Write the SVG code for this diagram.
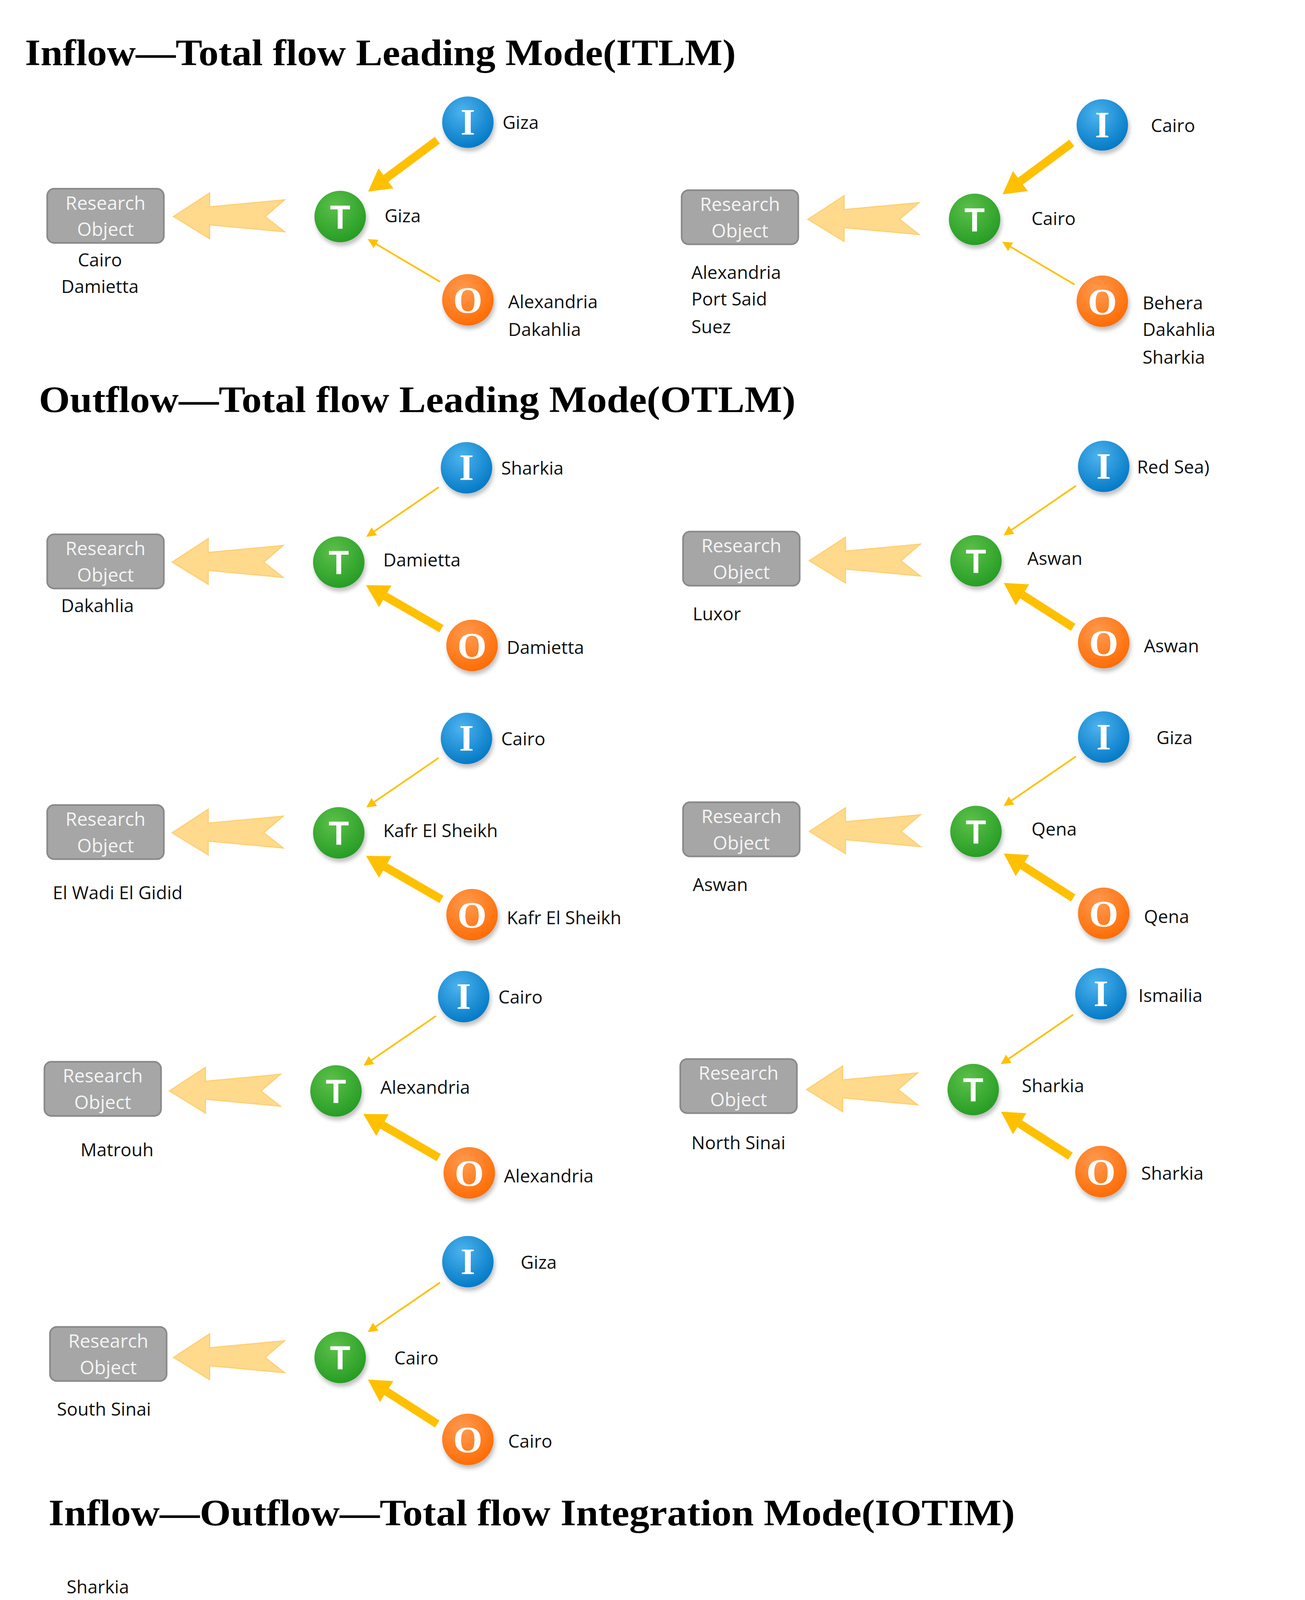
<svg xmlns="http://www.w3.org/2000/svg" width="3340" height="5546" viewBox="0 0 3340 5546">
<defs>
<style>
.title{font-family:"Liberation Serif",serif;font-weight:bold;font-size:27px;fill:#000}
.lbl{font-family:"Open Sans","Noto Sans",sans-serif;font-size:13px;fill:#111}
.boxt{font-family:"Open Sans","Noto Sans",sans-serif;font-size:13.5px;fill:#f4f4f4;text-anchor:middle}
.box{fill:#a6a6a6;stroke:#8a8a8a;stroke-width:1.2}
.big{fill:#ffd98c;stroke:#ffcf70;stroke-width:0.8}
.thick{stroke:#ffc000;stroke-width:6;fill:none}
.thin{stroke:#ffc000;stroke-width:1.2;fill:none}
.let{font-weight:bold;fill:#fff;text-anchor:middle}
.serif{font-family:"Liberation Serif",serif;font-size:27px}
.sans{font-family:"Liberation Sans",sans-serif;font-size:24px}
.sh{fill:#000;opacity:0.25}
</style>
<radialGradient id="gI" cx="40%" cy="30%" r="75%"><stop offset="0" stop-color="#4db3ee"/><stop offset="1" stop-color="#0077c4"/></radialGradient>
<radialGradient id="gT" cx="40%" cy="30%" r="75%"><stop offset="0" stop-color="#5cc04a"/><stop offset="1" stop-color="#239b22"/></radialGradient>
<radialGradient id="gO" cx="40%" cy="30%" r="75%"><stop offset="0" stop-color="#ff9a50"/><stop offset="1" stop-color="#ff6a00"/></radialGradient>
<filter id="bl" x="-50%" y="-50%" width="200%" height="200%"><feGaussianBlur stdDeviation="1.5"/></filter>
<marker id="hk" markerUnits="userSpaceOnUse" markerWidth="20" markerHeight="20" refX="0" refY="0" viewBox="-1 -10 18 20" orient="auto" overflow="visible"><path d="M0,-9 L16,0 L0,9 Z" fill="#ffc000"/></marker>
<marker id="hn" markerUnits="userSpaceOnUse" markerWidth="8" markerHeight="8" refX="0" refY="0" viewBox="-1 -4 8 8" orient="auto" overflow="visible"><path d="M0,-3.5 L7,0 L0,3.5 Z" fill="#ffc000"/></marker>
<g id="bigArrow"><path class="big" d="M0,0 L26,-17 L26,-7 L80,-12 L66,0 L80,11 L26,6 L26,16 Z"/></g>
<g id="boxShape"><rect class="box" x="0" y="0" width="84" height="39" rx="5"/><text class="boxt" x="42" y="15">Research</text><text class="boxt" x="42" y="34">Object</text></g>
<g id="nI"><circle class="sh" cx="1" cy="2.5" r="18.5" filter="url(#bl)"/><circle r="18.5" fill="url(#gI)"/><text class="let serif" y="9">I</text></g>
<g id="nT"><circle class="sh" cx="1" cy="2.5" r="18.5" filter="url(#bl)"/><circle r="18.5" fill="url(#gT)"/><text class="let sans" y="8.5">T</text></g>
<g id="nO"><circle class="sh" cx="1" cy="2.5" r="18.5" filter="url(#bl)"/><circle r="18.5" fill="url(#gO)"/><text class="let serif" y="9.5">O</text></g>
</defs>
<rect width="3340" height="5546" fill="#fff"/>
<g transform="scale(3.5532)">
<g id="titles">
<text class="title" x="18" y="47" textLength="512" lengthAdjust="spacingAndGlyphs">Inflow—Total flow Leading Mode(ITLM)</text>
<text class="title" x="28" y="297" textLength="545" lengthAdjust="spacingAndGlyphs">Outflow—Total flow Leading Mode(OTLM)</text>
<text class="title" x="35" y="1099" textLength="696" lengthAdjust="spacingAndGlyphs">Inflow—Outflow—Total flow Integration Mode(IOTIM)</text>
</g>
<g id="connectors">
<g transform="translate(245,156)"><use href="#bigArrow" x="-120"/><line class="thick" x1="70" y1="-55" x2="33" y2="-27.5" marker-end="url(#hk)"/><line class="thin" x1="72" y1="47" x2="25.9" y2="19.8" marker-end="url(#hn)"/></g>
<g transform="translate(702,158)"><use href="#bigArrow" x="-120"/><line class="thick" x1="70" y1="-55" x2="33" y2="-27.5" marker-end="url(#hk)"/><line class="thin" x1="72" y1="47" x2="25.9" y2="19.8" marker-end="url(#hn)"/></g>
<g transform="translate(244,405)"><use href="#bigArrow" x="-120"/><line class="thin" x1="72" y1="-54" x2="25.6" y2="-22.2" marker-end="url(#hn)"/><line class="thick" x1="74" y1="48" x2="33.5" y2="24.6" marker-end="url(#hk)"/></g>
<g transform="translate(703,404)"><use href="#bigArrow" x="-120"/><line class="thin" x1="72" y1="-54" x2="25.6" y2="-22.2" marker-end="url(#hn)"/><line class="thick" x1="70" y1="48" x2="33.5" y2="24.6" marker-end="url(#hk)"/></g>
<g transform="translate(244,600)"><use href="#bigArrow" x="-120"/><line class="thin" x1="72" y1="-54" x2="25.6" y2="-22.2" marker-end="url(#hn)"/><line class="thick" x1="74" y1="48" x2="33.5" y2="24.6" marker-end="url(#hk)"/></g>
<g transform="translate(703,599)"><use href="#bigArrow" x="-120"/><line class="thin" x1="72" y1="-54" x2="25.6" y2="-22.2" marker-end="url(#hn)"/><line class="thick" x1="70" y1="48" x2="33.5" y2="24.6" marker-end="url(#hk)"/></g>
<g transform="translate(242,786)"><use href="#bigArrow" x="-120"/><line class="thin" x1="72" y1="-54" x2="25.6" y2="-22.2" marker-end="url(#hn)"/><line class="thick" x1="74" y1="48" x2="33.5" y2="24.6" marker-end="url(#hk)"/></g>
<g transform="translate(701,785)"><use href="#bigArrow" x="-120"/><line class="thin" x1="72" y1="-54" x2="25.6" y2="-22.2" marker-end="url(#hn)"/><line class="thick" x1="70" y1="48" x2="33.5" y2="24.6" marker-end="url(#hk)"/></g>
<g transform="translate(245,978)"><use href="#bigArrow" x="-120"/><line class="thin" x1="72" y1="-54" x2="25.6" y2="-22.2" marker-end="url(#hn)"/><line class="thick" x1="70" y1="48" x2="33.5" y2="24.6" marker-end="url(#hk)"/></g>
<g transform="translate(246,1257)"><use href="#bigArrow" x="-120"/><line class="thick" x1="70" y1="-55" x2="33" y2="-27.5" marker-end="url(#hk)"/><line class="thick" x1="70" y1="48" x2="33.5" y2="24.6" marker-end="url(#hk)"/></g>
<g transform="translate(719,1250)"><use href="#bigArrow" x="-120"/><line class="thick" x1="70" y1="-55" x2="33" y2="-27.5" marker-end="url(#hk)"/><line class="thick" x1="70" y1="48" x2="33.5" y2="24.6" marker-end="url(#hk)"/></g>
<g transform="translate(246,1471)"><use href="#bigArrow" x="-120"/><line class="thick" x1="70" y1="-55" x2="33" y2="-27.5" marker-end="url(#hk)"/><line class="thick" x1="70" y1="48" x2="33.5" y2="24.6" marker-end="url(#hk)"/></g>
<g transform="translate(719,1465)"><use href="#bigArrow" x="-120"/><line class="thick" x1="70" y1="-55" x2="33" y2="-27.5" marker-end="url(#hk)"/><line class="thick" x1="70" y1="48" x2="33.5" y2="24.6" marker-end="url(#hk)"/></g>
</g>

<g id="p1"><g transform="translate(245,156)"><use href="#boxShape" x="-211" y="-20"/><use href="#nT"/><use href="#nI" x="92" y="-68"/><use href="#nO" x="92" y="60"/></g>
<text class="lbl" x="72" y="192" text-anchor="middle">Cairo</text><text class="lbl" x="72" y="211" text-anchor="middle">Damietta</text>
<text class="lbl" x="277" y="160">Giza</text><text class="lbl" x="362" y="93">Giza</text><text class="lbl" x="366" y="222">Alexandria</text><text class="lbl" x="366" y="242">Dakahlia</text></g>

<g id="p2"><g transform="translate(702,158)"><use href="#boxShape" x="-211" y="-21"/><use href="#nT"/><use href="#nI" x="92" y="-68"/><use href="#nO" x="92" y="59"/></g>
<text class="lbl" x="498" y="201">Alexandria</text><text class="lbl" x="498" y="220">Port Said</text><text class="lbl" x="498" y="240">Suez</text>
<text class="lbl" x="743" y="162">Cairo</text><text class="lbl" x="829" y="95">Cairo</text><text class="lbl" x="823" y="223">Behera</text><text class="lbl" x="823" y="242">Dakahlia</text><text class="lbl" x="823" y="262">Sharkia</text></g>

<g id="p3"><g transform="translate(244,405)"><use href="#boxShape" x="-210" y="-20"/><use href="#nT"/><use href="#nI" x="92" y="-68"/><use href="#nO" x="96" y="60"/></g>
<text class="lbl" x="44" y="441">Dakahlia</text><text class="lbl" x="276" y="408">Damietta</text><text class="lbl" x="361" y="342">Sharkia</text><text class="lbl" x="365" y="471">Damietta</text></g>

<g id="p4"><g transform="translate(703,404)"><use href="#boxShape" x="-211" y="-21"/><use href="#nT"/><use href="#nI" x="92" y="-68"/><use href="#nO" x="92" y="59"/></g>
<text class="lbl" x="499" y="447">Luxor</text><text class="lbl" x="740" y="407">Aswan</text><text class="lbl" x="819" y="341">Red Sea)</text><text class="lbl" x="824" y="470">Aswan</text></g>

<g id="p5"><g transform="translate(244,600)"><use href="#boxShape" x="-210" y="-20"/><use href="#nT"/><use href="#nI" x="92" y="-68"/><use href="#nO" x="96" y="59"/></g>
<text class="lbl" x="38" y="648">El Wadi El Gidid</text><text class="lbl" x="276" y="603">Kafr El Sheikh</text><text class="lbl" x="361" y="537">Cairo</text><text class="lbl" x="365" y="666">Kafr El Sheikh</text></g>

<g id="p6"><g transform="translate(703,599)"><use href="#boxShape" x="-211" y="-21"/><use href="#nT"/><use href="#nI" x="92" y="-68"/><use href="#nO" x="92" y="59"/></g>
<text class="lbl" x="499" y="642">Aswan</text><text class="lbl" x="743" y="602">Qena</text><text class="lbl" x="833" y="536">Giza</text><text class="lbl" x="824" y="665">Qena</text></g>

<g id="p7"><g transform="translate(242,786)"><use href="#boxShape" x="-210" y="-21"/><use href="#nT"/><use href="#nI" x="92" y="-68"/><use href="#nO" x="96" y="59"/></g>
<text class="lbl" x="58" y="833">Matrouh</text><text class="lbl" x="274" y="788">Alexandria</text><text class="lbl" x="359" y="723">Cairo</text><text class="lbl" x="363" y="852">Alexandria</text></g>

<g id="p8"><g transform="translate(701,785)"><use href="#boxShape" x="-211" y="-22"/><use href="#nT"/><use href="#nI" x="92" y="-69"/><use href="#nO" x="92" y="59"/></g>
<text class="lbl" x="498" y="828">North Sinai</text><text class="lbl" x="736" y="787">Sharkia</text><text class="lbl" x="820" y="722">Ismailia</text><text class="lbl" x="822" y="850">Sharkia</text></g>

<g id="p9"><g transform="translate(245,978)"><use href="#boxShape" x="-209" y="-22"/><use href="#nT"/><use href="#nI" x="92" y="-69"/><use href="#nO" x="92" y="59"/></g>
<text class="lbl" x="41" y="1020">South Sinai</text><text class="lbl" x="284" y="983">Cairo</text><text class="lbl" x="375" y="914">Giza</text><text class="lbl" x="366" y="1043">Cairo</text></g>

<g id="p10"><g transform="translate(246,1257)"><use href="#boxShape" x="-210" y="-21"/><use href="#nT"/><use href="#nI" x="92" y="-68"/><use href="#nO" x="92" y="60"/></g>
<text class="lbl" x="48" y="1148">Sharkia</text><text class="lbl" x="48" y="1168">Kalyubia</text><text class="lbl" x="48" y="1187">Gharbia</text><text class="lbl" x="48" y="1207">Menoufia</text><text class="lbl" x="48" y="1226">Giza</text>
<text class="lbl" x="42" y="1299">Beni-Suef</text><text class="lbl" x="42" y="1318">Fayoum</text><text class="lbl" x="42" y="1338">Menia</text><text class="lbl" x="42" y="1358">Asyout</text><text class="lbl" x="42" y="1377">Suhag</text><text class="lbl" x="42" y="1396">Qena</text>
<text class="lbl" x="288" y="1260">Cairo</text><text class="lbl" x="373" y="1194">Cairo</text><text class="lbl" x="367" y="1323">Cairo</text></g>

<g id="p11"><g transform="translate(719,1250)"><use href="#boxShape" x="-210" y="-20"/><use href="#nT"/><use href="#nI" x="92" y="-67"/><use href="#nO" x="92" y="61"/></g>
<text class="lbl" x="513" y="1295">Kafr El Sheikh</text><text class="lbl" x="513" y="1314">Behera</text>
<text class="lbl" x="763" y="1254">Alexandria</text><text class="lbl" x="848" y="1188">Alexandria</text><text class="lbl" x="840" y="1317">Alexandria</text></g>

<g id="p12"><g transform="translate(246,1471)"><use href="#boxShape" x="-210" y="-21"/><use href="#nT"/><use href="#nI" x="92" y="-68"/><use href="#nO" x="92" y="60"/></g>
<text class="lbl" x="42" y="1515">Ismailia</text><text class="lbl" x="281" y="1474">Sharkia</text><text class="lbl" x="366" y="1408">Sharkia</text><text class="lbl" x="367" y="1537">Sharkia</text></g>

<g id="p13"><g transform="translate(719,1465)"><use href="#boxShape" x="-210" y="-21"/><use href="#nT"/><use href="#nI" x="92" y="-68"/><use href="#nO" x="92" y="59"/></g>
<text class="lbl" x="513" y="1508">Red Sea</text><text class="lbl" x="751" y="1468">Qena</text><text class="lbl" x="836" y="1402">Qena</text><text class="lbl" x="840" y="1531">Qena</text></g>
</g>
</svg>
